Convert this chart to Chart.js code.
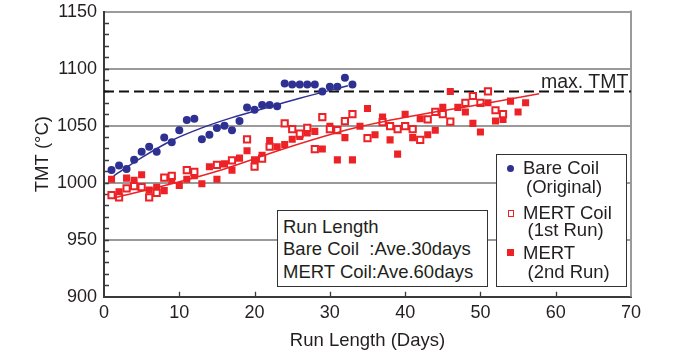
<!DOCTYPE html>
<html><head><meta charset="utf-8">
<script src="https://cdn.jsdelivr.net/npm/chart.js@4/dist/chart.umd.min.js"></script>
<style>
html,body{margin:0;padding:0;background:#fff;}
#wrap{position:relative;width:690px;height:350px;font-family:"Liberation Sans",Arial,sans-serif;color:#231f20;overflow:hidden;}
#c{position:absolute;left:0;top:0;}
.box{position:absolute;background:#fff;border:1.5px solid #333;box-sizing:border-box;}
.t{position:absolute;white-space:nowrap;font-size:18.5px;line-height:1;}
.mk{position:absolute;box-sizing:border-box;}
</style></head><body>
<div id="wrap">
<canvas id="c" width="690" height="350"></canvas>
<div class="t" style="left:541px;top:72px;font-size:19.5px">max. TMT</div>
<div class="box" style="left:277px;top:210px;width:211px;height:77px"></div>
<div class="t" style="left:283px;top:217.5px">Run Length</div>
<div class="t" style="left:283px;top:240px">Bare Coil&nbsp;&nbsp;:Ave.30days</div>
<div class="t" style="left:283px;top:262.5px">MERT Coil:Ave.60days</div>
<div class="box" style="left:496px;top:154px;width:131px;height:133px"></div>
<div class="mk" style="left:506.5px;top:164.5px;width:7px;height:7px;border-radius:50%;background:#2e3192"></div>
<div class="t" style="left:523px;top:159px">Bare Coil</div>
<div class="t" style="left:526px;top:178px">(Original)</div>
<div class="mk" style="left:507.5px;top:210px;width:6.5px;height:6.5px;border:1.8px solid #ec2227;background:#fff"></div>
<div class="t" style="left:523px;top:203.5px">MERT Coil</div>
<div class="t" style="left:527.5px;top:220.5px">(1st Run)</div>
<div class="mk" style="left:507px;top:249px;width:7px;height:7px;background:#ec2227"></div>
<div class="t" style="left:523px;top:244px">MERT</div>
<div class="t" style="left:527.5px;top:262.5px">(2nd Run)</div>
</div>
<script>
// ---- data ----
const bareDays = [1,2,3,4,5,6,7,8,9,10,11,12,13,14,15,16,17,18,19,20,21,22,23,24,25,26,27,28,29,30,31,32,33];
const bareTMT  = [1011,1015,1012,1020,1027,1031.5,1027,1039.5,1035.5,1046,1055,1056,1038,1042,1048,1050,1046,1054,1066,1064,1068,1068,1067,1087,1086,1086,1086,1086,1080,1084,1084,1092,1086];

const mert1Days = [1,2,3,4,5,6,7,8,9,11,12,15,17,19,20,21,22,24,25,26,27,28,29,30,31,32,33,35,37,38,39,40,41,42,43,44,45,46,48,49,50,51,52,53];
const mert1TMT  = [989,987,995,997,996,987,991,1004.5,1006,1011,1009.5,1015.5,1019.5,1038,1014,1021,1031.5,1052,1047,1043,1048,1029.5,1057.5,1047,1046,1054,1060,1039,1053,1049.5,1047,1049.5,1047,1037.5,1055.5,1062,1060,1053.5,1070,1076,1070,1080,1063.5,1060];

const mert2Days = [1,2,3,4,5,6,7,8,9,10,11,12,13,14,15,16,17,18,19,20,21,22,23,24,25,26,27,28,29,30,31,32,33,34,35,36,37,38,39,40,41,42,43,44,45,46,47,48,49,50,51,52,53,54,55,56];
const mert2TMT  = [1003,992,1004,1002,1007,993.5,996,993,1002,997.5,1003,1006,999,1014,1003,1016.5,1011,1021.5,1028,1020,1024,1037,1031.5,1033.5,1038,1040.5,1043.5,1045,1029.5,1049.5,1020,1039.5,1020,1049.5,1065,1042,1057.5,1037.5,1025,1060,1039.5,1056,1042,1046,1066,1080,1066,1062,1052,1044.5,1070,1054,1055.5,1071.5,1062,1070];

const bareTrendDays = [1.3,5,9,13,17,21,26,32.4];
const bareTrendTMT  = [1006,1022,1037,1048,1057,1064.5,1074,1085];
const mertTrendDays = [1.5,9,16,24,33,41,49,57.8];
const mertTrendTMT  = [987,999,1012,1030,1047.5,1058.5,1067.5,1078];

const maxDays = [0,70];
const maxTMT  = [1080,1080];

const xTicks = [0,10,20,30,40,50,60,70];
const yTicks = [900,950,1000,1050,1100,1150];

const BLUE = '#2e3192';
const RED = '#ec2227';
const pts = (xs, ys) => xs.map((x, i) => ({x: x, y: ys[i]}));

const framePlugin = {
  id: 'frame',
  beforeDatasetsDraw(chart) {
    const {ctx, chartArea: a, scales: {x, y}} = chart;
    ctx.save();
    ctx.strokeStyle = '#9a9a9a';
    ctx.lineWidth = 2;
    ctx.beginPath();
    ctx.moveTo(a.right, a.top - 1);
    ctx.lineTo(a.right, a.bottom);
    ctx.stroke();
    ctx.strokeStyle = '#3a3a3a';
    ctx.lineWidth = 1.3;
    ctx.beginPath();
    for (let v = 910; v < 1150; v += 10) {
      const py = Math.round(y.getPixelForValue(v)) + 0.5;
      ctx.moveTo(a.left, py);
      ctx.lineTo(a.left + 5, py);
    }
    for (let v = 10; v < 70; v += 10) {
      const px = Math.round(x.getPixelForValue(v)) + 0.5;
      ctx.moveTo(px, a.bottom);
      ctx.lineTo(px, a.bottom - 5);
    }
    ctx.stroke();
    ctx.restore();
  }
};

Chart.defaults.font.family = '"Liberation Sans", Arial, sans-serif';
Chart.defaults.color = '#231f20';

new Chart(document.getElementById('c'), {
  type: 'scatter',
  data: {
    datasets: [
      {type: 'line', data: pts(bareTrendDays, bareTrendTMT), borderColor: BLUE, borderWidth: 1.5, pointRadius: 0, cubicInterpolationMode: 'monotone', fill: false},
      {type: 'line', data: pts(mertTrendDays, mertTrendTMT), borderColor: RED, borderWidth: 1.5, pointRadius: 0, cubicInterpolationMode: 'monotone', fill: false},
      {data: pts(bareDays, bareTMT), pointStyle: 'circle', pointRadius: 4, backgroundColor: BLUE, borderColor: BLUE, borderWidth: 0},
      {data: pts(mert1Days, mert1TMT), pointStyle: 'rect', pointRadius: 4.4, backgroundColor: '#fff', borderColor: RED, borderWidth: 2},
      {data: pts(mert2Days, mert2TMT), pointStyle: 'rect', pointRadius: 5, backgroundColor: RED, borderColor: RED, borderWidth: 0},
      {type: 'line', data: pts(maxDays, maxTMT), borderColor: '#111', borderWidth: 2, borderDash: [10, 5], pointRadius: 0, fill: false},
      {data: [{x: maxDays[0], y: maxTMT[0]}], pointStyle: 'rect', pointRadius: 2, backgroundColor: BLUE, borderWidth: 0}
    ]
  },
  options: {
    responsive: false,
    animation: false,
    events: [],
    layout: {padding: {left: 0, right: 59, top: 11.6, bottom: 0}},
    plugins: {legend: {display: false}, tooltip: {enabled: false}},
    scales: {
      x: {
        type: 'linear', min: xTicks[0], max: xTicks[xTicks.length - 1],
        afterFit(s) { s.height = 53.3; s.paddingLeft = 0; s.paddingRight = 0; },
        afterBuildTicks(s) { s.ticks = xTicks.map(v => ({value: v})); },
        ticks: {font: {size: 18}, padding: 6, color: '#231f20', callback: v => String(v)},
        grid: {display: false, drawTicks: false},
        border: {display: true, color: '#3a3a3a', width: 2},
        title: {display: true, text: 'Run Length (Days)', font: {size: 18.5, lineHeight: 1}, padding: 0, color: '#231f20'}
      },
      y: {
        type: 'linear', min: yTicks[0], max: yTicks[yTicks.length - 1],
        afterFit(s) { s.width = 104; s.paddingTop = 0; s.paddingBottom = 0; },
        afterBuildTicks(s) { s.ticks = yTicks.map(v => ({value: v})); },
        ticks: {font: {size: 18}, padding: 7, color: '#231f20', callback: v => String(v)},
        grid: {color: '#9a9a9a', lineWidth: 2, drawTicks: false},
        border: {display: true, color: '#3a3a3a', width: 2},
        title: {display: true, text: 'TMT (°C)', font: {size: 18.5, lineHeight: 1}, padding: {top: 33.5, bottom: 0}, color: '#231f20'}
      }
    }
  },
  plugins: [framePlugin]
});
</script>
</body></html>
